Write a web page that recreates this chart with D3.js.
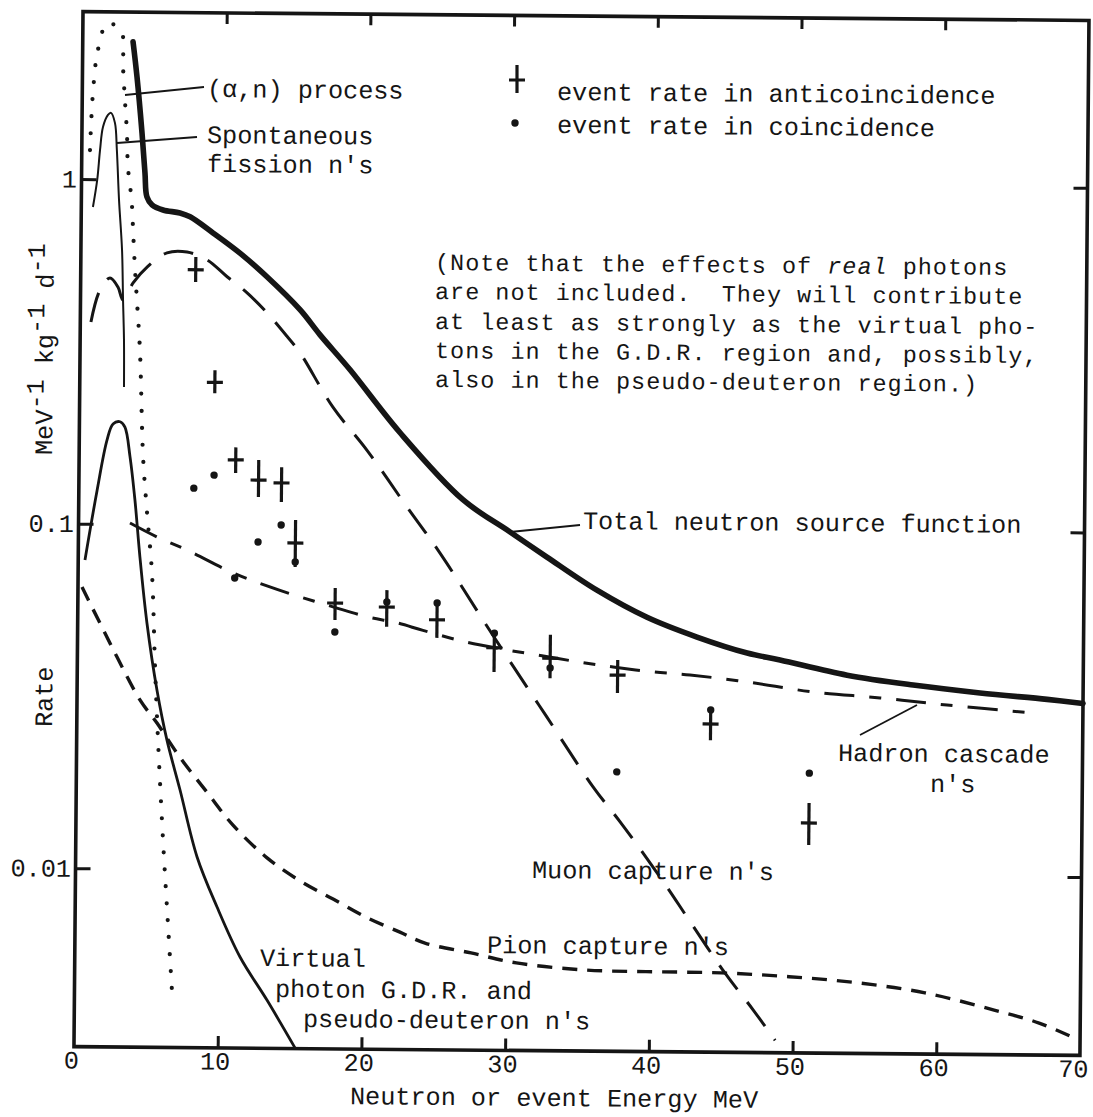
<!DOCTYPE html>
<html><head><meta charset="utf-8">
<script src="https://cdn.jsdelivr.net/npm/d3@7"></script>
<style>
html,body{margin:0;padding:0;background:#fff;}
svg{display:block;}
text{font-family:"Liberation Mono","DejaVu Sans Mono",monospace;font-size:25.2px;fill:#151515;white-space:pre;}
text.note{font-size:23.4px;letter-spacing:1.05px;}
</style></head><body>
<svg id="c" width="1093" height="1117"></svg>
<script>
// ---------------- data (energy in MeV, rate in MeV^-1 kg^-1 d^-1) ----------------
const xTicks = [0, 10, 20, 30, 40, 50, 60, 70];
const yTicks = [1, 0.1, 0.01];
const yTickLabels = ["1", "0.1", "0.01"];

const totalE = [3.50, 3.80, 4.18, 4.41, 4.56, 4.92, 5.69, 6.87, 7.58, 9.18, 11.07, 12.96, 15.28, 16.69, 18.80, 22.32, 26.73, 30.03, 32.61, 36.08, 39.61, 43.10, 46.60, 48.89, 53.57, 58.17, 62.83, 67.50, 70.0];
const totalR = [2.51, 1.98, 1.365, 1.045, 0.891, 0.845, 0.817, 0.802, 0.782, 0.703, 0.615, 0.526, 0.423, 0.358, 0.284, 0.187, 0.120, 0.0970, 0.0822, 0.0662, 0.0553, 0.0486, 0.0438, 0.0419, 0.0380, 0.0357, 0.0340, 0.0327, 0.0319];

const alphaE = [0.57, 0.74, 1.06, 1.68, 2.23, 2.73, 2.82, 2.97, 3.13, 3.22, 3.50, 3.63, 3.77, 3.93, 4.17, 4.45, 4.76, 5.14, 5.41, 5.66, 6.07, 6.46, 6.78];
const alphaR = [1.214, 1.778, 2.37, 2.84, 2.80, 2.66, 2.12, 1.70, 1.365, 1.088, 0.867, 0.695, 0.553, 0.445, 0.318, 0.157, 0.108, 0.0722, 0.0385, 0.0237, 0.01213, 0.00697, 0.00446];

const fissionE = [0.81, 1.09, 1.27, 1.46, 1.80, 2.01, 2.29, 2.44, 2.62, 2.86, 2.96, 3.05, 3.08];
const fissionR = [0.830, 0.995, 1.216, 1.417, 1.537, 1.559, 1.458, 1.217, 0.872, 0.625, 0.448, 0.343, 0.250];

const muonE = [0.74, 1.34, 2.04, 2.60, 2.96, 3.65, 4.63, 5.99, 7.39, 8.79, 10.19, 11.59, 12.98, 14.39, 15.31, 17.63, 20.03, 22.84, 25.17, 28.20, 29.89, 32.71, 35.96, 37.93, 40.82, 42.72, 45.26, 47.23, 48.78];
const muonR = [0.385, 0.476, 0.517, 0.487, 0.447, 0.501, 0.558, 0.614, 0.618, 0.587, 0.525, 0.472, 0.414, 0.354, 0.317, 0.221, 0.166, 0.114, 0.0839, 0.0538, 0.0421, 0.0282, 0.01775, 0.01396, 0.00957, 0.00733, 0.00515, 0.00404, 0.00330];

const hadronE = [3.58, 5.47, 7.56, 10.78, 13.15, 15.46, 17.76, 20.13, 22.22, 24.03, 26.82, 29.61, 31.98, 34.98, 37.28, 40.06, 42.64, 46.61, 51.21, 55.88, 60.54, 66.67];
const hadronR = [0.1007, 0.0919, 0.0844, 0.0726, 0.0667, 0.0621, 0.0582, 0.0546, 0.0525, 0.0500, 0.0466, 0.0443, 0.0427, 0.0408, 0.0396, 0.0384, 0.0377, 0.0361, 0.0339, 0.0327, 0.0313, 0.0298];

const photonE = [0.47, 1.27, 1.93, 2.34, 2.83, 3.17, 3.54, 3.91, 4.29, 4.82, 5.56, 6.28, 7.22, 8.45, 9.87, 11.50, 13.40, 15.38];
const photonR = [0.0785, 0.125, 0.175, 0.195, 0.198, 0.191, 0.157, 0.1175, 0.0804, 0.0517, 0.0330, 0.0237, 0.0170, 0.01086, 0.00778, 0.00558, 0.00419, 0.00305];

const pionE = [0.28, 1.55, 2.76, 4.38, 5.58, 7.20, 9.10, 10.93, 13.32, 15.63, 17.94, 20.31, 22.61, 24.36, 27.57, 30.73, 35.51, 40.25, 44.98, 49.71, 54.45, 59.18, 64.00, 67.14, 69.86];
const pionR = [0.0655, 0.0515, 0.0411, 0.0309, 0.0265, 0.0211, 0.01675, 0.01346, 0.01084, 0.00931, 0.00826, 0.00731, 0.00665, 0.00619, 0.00581, 0.00545, 0.00522, 0.00518, 0.00516, 0.00505, 0.00487, 0.00457, 0.00409, 0.00376, 0.00337];

const eventE   = [8.0, 9.4, 10.9, 12.5, 14.1, 15.1, 17.9, 21.5, 25.0, 29.0, 32.9, 37.6, 44.1, 51.0];
const antiRate = [0.549, 0.259, 0.1545, 0.1352, 0.1328, 0.089, 0.0597, 0.0583, 0.0537, 0.0447, 0.0418, 0.0375, 0.0272, 0.01412];
const antiLow  = [0.506, 0.241, 0.1415, 0.1207, 0.117, 0.0758, 0.0533, 0.0511, 0.0476, 0.0380, 0.0366, 0.0333, 0.0244, 0.01219];
const antiHigh = [0.598, 0.281, 0.168, 0.1545, 0.1476, 0.1038, 0.0660, 0.0653, 0.0601, 0.0493, 0.0489, 0.0415, 0.0293, 0.01615];
const coinRate = [0.1276, 0.1394, 0.0702, 0.0894, 0.1003, 0.0784, 0.0492, 0.0603, 0.0601, 0.0493, 0.0392, 0.01965, 0.0299, 0.0197];

// ---------------- drawing ----------------
const W = 1093, H = 1117;
const ROT = 0.5, CX = 577, CY = 530;   // the scanned figure is slightly rotated
const INK = "#151515";
const svg = d3.select("#c");
svg.append("rect").attr("width", W).attr("height", H).attr("fill", "#fff");
const g = svg.append("g").attr("transform", `rotate(${ROT},${CX},${CY})`);

const x = d3.scaleLinear().domain([0, 70]).range([78.5, 1084.5]);
const y = d3.scaleLog().domain([0.003036, 3.06]).range([1051, 16]);

const sn = Math.sin(ROT * Math.PI / 180), cs = Math.cos(ROT * Math.PI / 180);
function un(px, py) { const dx = px - CX, dy = py - CY; return [CX + dx * cs + dy * sn, CY - dx * sn + dy * cs]; }

// frame
g.append("rect").attr("x", x(0)).attr("y", y(3.06)).attr("width", x(70) - x(0)).attr("height", y(0.003036) - y(3.06))
  .attr("fill", "none").attr("stroke", INK).attr("stroke-width", 3.6);

function styleAxis(sel) {
  sel.select(".domain").remove();
  sel.selectAll(".tick line").attr("stroke", INK).attr("stroke-width", 3);
  sel.selectAll("text").attr("font-family", null).attr("font-size", null).attr("fill", INK);
  sel.attr("font-family", null).attr("font-size", null);
}
const inner = xTicks.filter(d => d > 0 && d < 70);
g.append("g").attr("transform", `translate(0,${y(0.003036)})`)
  .call(d3.axisBottom(x).tickValues(xTicks).tickSize(-12).tickPadding(4).tickFormat(d3.format("d")))
  .call(styleAxis)
  .call(s => s.selectAll(".tick").filter(d => d === 0 || d === 70).select("line").remove())
  .call(s => s.selectAll(".tick text").attr("dx", d => d === 70 ? -7 : -3));
g.append("g").attr("transform", `translate(0,${y(3.06)})`)
  .call(d3.axisTop(x).tickValues(inner).tickSize(-11).tickFormat(""))
  .call(styleAxis);
g.append("g").attr("transform", `translate(${x(0)},0)`)
  .call(d3.axisLeft(y).tickValues(yTicks).tickSize(-15).tickPadding(4.5).tickFormat((d, i) => yTickLabels[i]))
  .call(styleAxis);
g.append("g").attr("transform", `translate(${x(70)},0)`)
  .call(d3.axisRight(y).tickValues(yTicks).tickSize(-14).tickFormat(""))
  .call(styleAxis);

// curves
const zip = (a, b) => a.map((v, i) => [v, b[i]]);
const line = d3.line().x(d => x(d[0])).y(d => y(d[1])).curve(d3.curveCatmullRom.alpha(0.5));
function curve(E, R, w, dash, cap) {
  g.append("path").attr("d", line(zip(E, R))).attr("fill", "none").attr("stroke", INK)
    .attr("stroke-width", w).attr("stroke-dasharray", dash || null)
    .attr("stroke-linecap", cap || "butt").attr("stroke-linejoin", "round");
}
curve(pionE, pionR, 3.4, "15,10");
curve(hadronE, hadronR, 3, "30,15,12,15");
curve(muonE, muonR, 3, "30,16");
curve(photonE, photonR, 2.8);
curve(fissionE, fissionR, 2);
curve(alphaE, alphaR, 4.2, "0,17", "round");
curve(totalE, totalR, 5.6, null, "round");

// event points
const pts = eventE.map((e, i) => ({ e, r: antiRate[i], lo: antiLow[i], hi: antiHigh[i], c: coinRate[i] }));
const crosses = g.append("g").attr("stroke", INK).attr("stroke-width", 3.2);
crosses.selectAll(".v").data(pts).join("line")
  .attr("x1", d => x(d.e)).attr("x2", d => x(d.e)).attr("y1", d => y(d.hi)).attr("y2", d => y(d.lo));
crosses.selectAll(".h").data(pts).join("line")
  .attr("x1", d => x(d.e) - 8).attr("x2", d => x(d.e) + 8).attr("y1", d => y(d.r)).attr("y2", d => y(d.r));
g.append("g").selectAll("circle").data(pts).join("circle")
  .attr("cx", d => x(d.e)).attr("cy", d => y(d.c)).attr("r", 3.7).attr("fill", INK);

// annotations (positions measured on the page, corrected for the tilt)
function label(px, py, str, anchor) {
  const p = un(px, py);
  return g.append("text").attr("x", p[0]).attr("y", p[1]).attr("text-anchor", anchor || "start").text(str);
}
function leader(a, b) {
  const p = un(a[0], a[1]), q = un(b[0], b[1]);
  g.append("line").attr("x1", p[0]).attr("y1", p[1]).attr("x2", q[0]).attr("y2", q[1])
    .attr("stroke", INK).attr("stroke-width", 1.8);
}
label(207, 97, "(α,n) process");
leader([125, 95], [204, 87]);
label(207, 143, "Spontaneous");
label(207, 172, "fission n's");
leader([117, 143], [197, 137]);
label(583, 529, "Total neutron source function");
leader([510, 532], [580, 525]);
label(838, 761, "Hadron cascade");
label(930, 792, "n's");
leader([860, 735], [917, 705]);
label(532, 878, "Muon capture n's");
label(487, 953, "Pion capture n's");
label(260, 966, "Virtual");
label(275, 997, "photon G.D.R. and");
label(303, 1027, "pseudo-deuteron n's");

// legend
{
  const a = un(517, 65), b = un(517, 93), h1 = un(509, 80), h2 = un(525, 80), d = un(515, 123);
  g.append("line").attr("x1", a[0]).attr("y1", a[1]).attr("x2", b[0]).attr("y2", b[1]).attr("stroke", INK).attr("stroke-width", 3.2);
  g.append("line").attr("x1", h1[0]).attr("y1", h1[1]).attr("x2", h2[0]).attr("y2", h2[1]).attr("stroke", INK).attr("stroke-width", 3.2);
  g.append("circle").attr("cx", d[0]).attr("cy", d[1]).attr("r", 3.7).attr("fill", INK);
  label(557, 100, "event rate in anticoincidence");
  label(557, 133, "event rate in coincidence");
}

// note
{
  const t = label(435, 270, "(Note that the effects of ").attr("class", "note");
  t.append("tspan").attr("font-style", "italic").text("real");
  t.append("tspan").text(" photons");
  label(435, 299, "are not included.  They will contribute").attr("class", "note");
  label(435, 329, "at least as strongly as the virtual pho-").attr("class", "note");
  label(435, 358, "tons in the G.D.R. region and, possibly,").attr("class", "note");
  label(435, 387, "also in the pseudo-deuteron region.)").attr("class", "note");
}

// axis titles
label(554, 1106, "Neutron or event Energy MeV", "middle");
{
  const p = un(52, 727);
  g.append("text").attr("transform", `translate(${p[0]},${p[1]}) rotate(-90)`).text("Rate");
  const q = un(52, 455);
  const t = g.append("text").attr("transform", `translate(${q[0]},${q[1]}) rotate(-90)`);
  t.append("tspan").text("MeV");
  t.append("tspan").attr("dy", -9).text("-1");
  t.append("tspan").attr("dy", 9).text(" kg");
  t.append("tspan").attr("dy", -9).text("-1");
  t.append("tspan").attr("dy", 9).text(" d");
  t.append("tspan").attr("dy", -9).text("-1");
}
</script>
</body></html>
